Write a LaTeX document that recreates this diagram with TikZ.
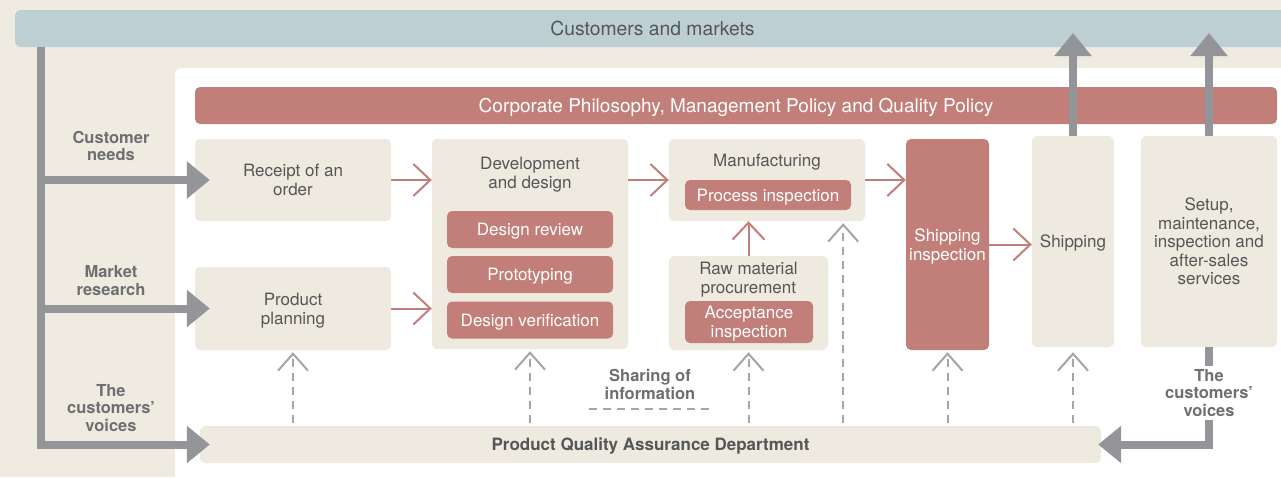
\documentclass[tikz,border=0pt]{standalone}
\usepackage{fontspec}
\setmainfont{TeX Gyre Heros}
\usetikzlibrary{arrows.meta}
\definecolor{bgbeige}{HTML}{EFEBE1}
\definecolor{boxbeige}{HTML}{EEEAE0}
\definecolor{topblue}{HTML}{BDCFD2}
\definecolor{rose}{HTML}{C27F7A}
\definecolor{garr}{HTML}{939598}
\definecolor{dgray}{HTML}{A3A5A8}
\definecolor{txt}{HTML}{555657}
\definecolor{lbltxt}{HTML}{6E6F71}
\tikzset{
  box/.style={fill=boxbeige, rounded corners=5pt, inner sep=0pt, text=txt, align=center,
    text depth=0pt, font=\fontsize{17}{19}\selectfont},
  rosebox/.style={fill=rose, rounded corners=5pt, inner sep=0pt, text=white, align=center,
    text depth=0pt, font=\fontsize{17}{19}\selectfont},
  plain/.style={inner sep=0pt, text=txt, align=center, text depth=0pt, font=\fontsize{17}{19}\selectfont},
  lbl/.style={inner sep=0pt, text=lbltxt, align=center, font=\fontsize{16.5}{17.5}\selectfont\bfseries},
  garrow/.style={draw=garr, line width=8pt, -{Triangle[length=23pt,width=36pt]}},
  parrow/.style={draw=rose, line width=2pt, -{Straight Barb[length=17pt,width=32pt,line width=2pt]}},
  darrow/.style={draw=dgray, line width=2pt, dash pattern=on 8pt off 6pt,
    -{Straight Barb[length=17pt,width=30pt,line width=2pt]}},
  dline/.style={draw=dgray, line width=2pt, dash pattern=on 8pt off 6pt},
}
\begin{document}
\begin{tikzpicture}[x=1pt,y=-1pt]
\useasboundingbox (0,0) rectangle (1281,477);
\clip (0,0) rectangle (1281,477);
% backgrounds
\fill[bgbeige] (0,0) rectangle (1281,477);
\fill[white, rounded corners=6pt] (175,68) rectangle (1300,500);
% top bar
\node[fill=topblue, rounded corners=6pt, minimum width=1275pt, minimum height=37pt, inner sep=0pt,
  text=txt, text depth=0pt, font=\fontsize{19.3}{21}\selectfont] (cust) at (652.5,28.5) {Customers and markets};
% corporate bar
\node[rosebox, minimum width=1082pt, minimum height=37pt, font=\fontsize{19}{21}\selectfont]
  (corp) at (736,105.5) {Corporate Philosophy, Management Policy and Quality Policy};
% main boxes
\node[box, minimum width=196pt, minimum height=82pt] (rec) at (293,180) {Receipt of an\\order};
\node[box, minimum width=196pt, minimum height=83pt] (pp) at (293,308.5) {Product\\planning};
\node[box, minimum width=196pt, minimum height=210pt] (dev) at (530,244) {};
\node[plain] (devt) at (530,172.5) {Development\\and design};
\node[rosebox, minimum width=166pt, minimum height=37pt] (dr) at (530,229.5) {Design review};
\node[rosebox, minimum width=166pt, minimum height=37pt] (proto) at (530,274.5) {Prototyping};
\node[rosebox, minimum width=166pt, minimum height=37pt] (dv) at (530,320) {Design verification};
\node[box, minimum width=196pt, minimum height=82pt] (manu) at (767,180) {};
\node[plain] (manut) at (767,160) {Manufacturing};
\node[rosebox, minimum width=166pt, minimum height=30pt] (procinsp) at (768,195) {Process inspection};
\node[box, minimum width=159pt, minimum height=94pt] (raw) at (748.5,303) {};
\node[plain] (rawt) at (748.5,277.5) {Raw material\\procurement};
\node[rosebox, minimum width=128pt, minimum height=42pt] (accinsp) at (749,322) {Acceptance\\inspection};
\node[rosebox, minimum width=83pt, minimum height=211pt] (shi) at (947.5,244.5) {Shipping\\inspection};
\node[box, minimum width=82pt, minimum height=211pt] (ship) at (1073,241.5) {Shipping};
\node[box, minimum width=136pt, minimum height=211pt, font=\fontsize{17}{18.5}\selectfont]
  (setup) at (1209,241.5) {Setup,\\maintenance,\\inspection and\\after-sales\\services};
\node[box, minimum width=901pt, minimum height=37pt, font=\fontsize{17}{19}\selectfont\bfseries]
  (pqa) at (650.5,444.5) {Product Quality Assurance Department};
% left labels
\node[lbl] (needs) at (111,146) {Customer\\needs};
\node[lbl] (mres) at (111,280.5) {Market\\research};
\node[lbl] (voices) at (111,408) {The\\customers’\\voices};
% gray arrows left
\coordinate (tl) at (41,47);
\draw[garrow] (tl) |- ([xshift=10pt]pqa.west);
\draw[garrow] (tl |- rec.west) -- ([xshift=15pt]rec.west);
\draw[garrow] (tl |- pp.west) -- ([xshift=15pt]pp.west);
% gray arrows up
\coordinate (up1) at (1073,33);
\coordinate (up2) at (1209,33);
\draw[garrow] (ship.north) -- (up1);
\draw[garrow] (setup.north) -- (up2);
% gray arrow bottom right
\draw[garrow] (setup.south) |- ([xshift=-3pt]pqa.east);
\node[lbl, fill=white, inner sep=3pt] (voices2) at (1209,393) {The\\customers’\\voices};
% rose arrows
\draw[parrow] (rec.east) -- (dev.west |- rec.east);
\draw[parrow] (pp.east) -- (dev.west |- pp.east);
\draw[parrow] (dev.east |- manu.west) -- (manu.west);
\draw[parrow] (manu.east) -- (shi.west |- manu.east);
\draw[parrow] (shi.east) -- (ship.west |- shi.east);
\draw[parrow] (raw.north) -- (raw.north |- manu.south);
% dashed arrows
\coordinate (m2) at ([xshift=-22pt]manu.south east);
\draw[darrow] ([yshift=3pt]pqa.north -| pp.south) -- ([yshift=-2pt]pp.south);
\draw[darrow] ([yshift=3pt]pqa.north -| dev.south) -- ([yshift=-2pt]dev.south);
\draw[darrow] ([yshift=3pt]pqa.north -| raw.south) -- ([yshift=-2pt]raw.south);
\draw[darrow] ([yshift=3pt]pqa.north -| m2) -- ([yshift=-2pt]m2);
\draw[darrow] ([yshift=3pt]pqa.north -| shi.south) -- ([yshift=-2pt]shi.south);
\draw[darrow] ([yshift=3pt]pqa.north -| ship.south) -- ([yshift=-5pt]ship.south);
% legend
\node[lbl] (share) at (650,384.5) {Sharing of\\information};
\coordinate (lg1) at (589,409);
\coordinate (lg2) at (710,409);
\draw[dline] (lg1) -- (lg2);
\end{tikzpicture}
\end{document}
